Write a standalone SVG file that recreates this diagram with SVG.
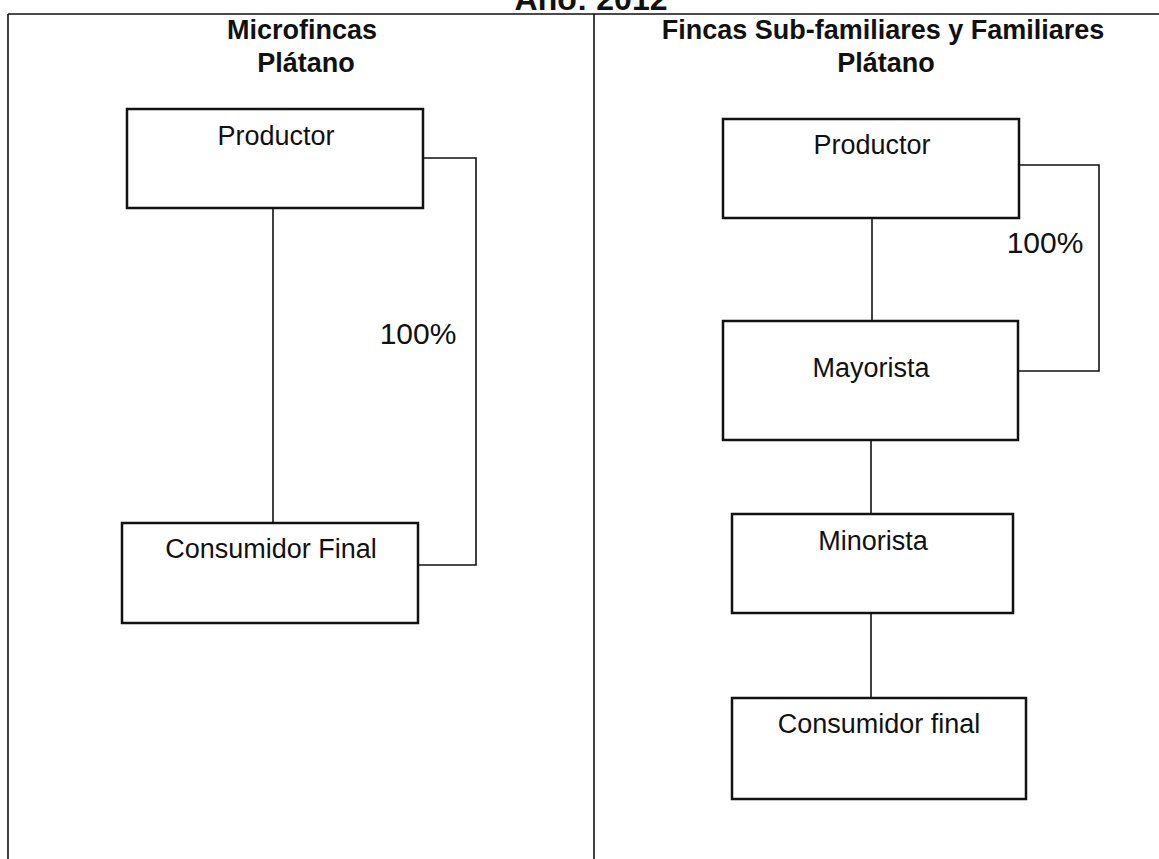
<svg xmlns="http://www.w3.org/2000/svg" width="1159" height="859" viewBox="0 0 1159 859">
<style>
.box{fill:#fff;stroke:#111;stroke-width:2.5}
.lbl{font-family:"Liberation Sans",Arial,sans-serif;font-size:27px;fill:#111;text-anchor:middle}
.hdr{font-family:"Liberation Sans",Arial,sans-serif;font-size:27px;font-weight:bold;fill:#111;text-anchor:middle}
.pct{font-family:"Liberation Sans",Arial,sans-serif;font-size:30px;fill:#111;text-anchor:middle}
.frame{fill:none;stroke:#111;stroke-width:1.6}
.conn{fill:none;stroke:#111;stroke-width:1.6}
</style>
<rect width="1159" height="859" fill="#fff"/>
<g id="frame">
<text class="hdr" x="591" y="10" style="font-size:32px">Año: 2012</text>
<path class="frame" d="M8,14 H1159 M8,14 V859 M594,14 V859"/>
<text class="hdr" x="302" y="39">Microfincas</text>
<text class="hdr" x="306" y="72">Plátano</text>
<text class="hdr" x="883" y="39">Fincas Sub-familiares y Familiares</text>
<text class="hdr" x="886" y="72">Plátano</text>
</g>
<g id="connectors">
<path class="conn" d="M273,208 V523"/>
<path class="conn" d="M423,158 H476 V565 H418"/>
<text class="pct" x="418" y="344">100%</text>
<path class="conn" d="M872,218 V321"/>
<path class="conn" d="M1019,165 H1099 V371 H1018"/>
<text class="pct" x="1045" y="253">100%</text>
<path class="conn" d="M871,440 V514"/>
<path class="conn" d="M871,613 V698"/>
</g>
<g id="n-productor-left">
<rect class="box" x="127" y="109" width="296" height="99"/>
<text class="lbl" x="276" y="145">Productor</text>
</g>
<g id="n-consumidor-left">
<rect class="box" x="122" y="523" width="296" height="100"/>
<text class="lbl" x="271" y="558">Consumidor Final</text>
</g>
<g id="n-productor-right">
<rect class="box" x="723" y="119" width="296" height="99"/>
<text class="lbl" x="872" y="154">Productor</text>
</g>
<g id="n-mayorista">
<rect class="box" x="723" y="321" width="295" height="119"/>
<text class="lbl" x="871" y="377">Mayorista</text>
</g>
<g id="n-minorista">
<rect class="box" x="732" y="514" width="281" height="99"/>
<text class="lbl" x="873" y="550">Minorista</text>
</g>
<g id="n-consumidor-right">
<rect class="box" x="732" y="698" width="294" height="101"/>
<text class="lbl" x="879" y="733">Consumidor final</text>
</g>
</svg>
